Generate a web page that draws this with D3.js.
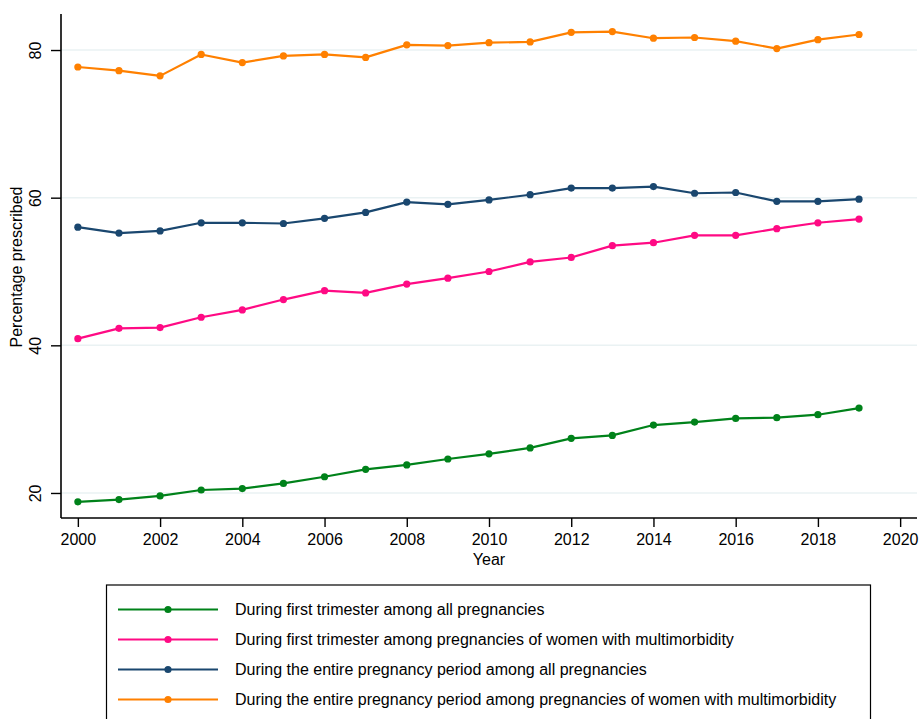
<!DOCTYPE html>
<html>
<head>
<meta charset="utf-8">
<script src="https://cdn.jsdelivr.net/npm/d3@7"></script>
<style>
  html, body { margin: 0; padding: 0; background: #fff; }
  svg { display: block; font-family: "Liberation Sans", Arial, sans-serif; }
</style>
</head>
<body>
<svg id="chart" width="919" height="719"></svg>
<script>
const years = [2000,2001,2002,2003,2004,2005,2006,2007,2008,2009,2010,2011,2012,2013,2014,2015,2016,2017,2018,2019];
const firstTrimesterAll = [18.8,19.1,19.6,20.4,20.6,21.3,22.2,23.2,23.8,24.6,25.3,26.1,27.4,27.8,29.2,29.6,30.1,30.2,30.6,31.5];
const firstTrimesterMulti = [40.9,42.3,42.4,43.8,44.8,46.2,47.4,47.1,48.3,49.1,50.0,51.3,51.9,53.5,53.9,54.9,54.9,55.8,56.6,57.1];
const entireAll = [56.0,55.2,55.5,56.6,56.6,56.5,57.2,58.0,59.4,59.1,59.7,60.4,61.3,61.3,61.5,60.6,60.7,59.5,59.5,59.8];
const entireMulti = [77.7,77.2,76.5,79.4,78.3,79.2,79.4,79.0,80.7,80.6,81.0,81.1,82.4,82.5,81.6,81.7,81.2,80.2,81.4,82.1];
const seriesNames = [
  "During first trimester among all pregnancies",
  "During first trimester among pregnancies of women with multimorbidity",
  "During the entire pregnancy period among all pregnancies",
  "During the entire pregnancy period among pregnancies of women with multimorbidity"
];
const seriesColors = ["#00821a", "#ff0a84", "#1a476f", "#ff8000"];
const xTicks = [2000,2002,2004,2006,2008,2010,2012,2014,2016,2018,2020];
const yTicks = [20,40,60,80];

const seriesValues = [firstTrimesterAll, firstTrimesterMulti, entireAll, entireMulti];

(function () {
const svg = d3.select("#chart");
const pLeft = 61, pRight = 917, pTop = 14, pBottom = 518;
const fs = 16;

const x = d3.scaleLinear().domain([1999.59, 2020.41]).range([pLeft, pRight]);
const y = d3.scaleLinear().domain([16.61, 84.88]).range([pBottom, pTop]);

// gridlines
svg.append("g").selectAll("line").data(yTicks).join("line")
  .attr("x1", pLeft).attr("x2", pRight)
  .attr("y1", d => y(d)).attr("y2", d => y(d))
  .attr("stroke", "#eaf2f3").attr("stroke-width", 1.6);

// y axis
const yAxis = svg.append("g").attr("transform", `translate(${pLeft},0)`)
  .call(d3.axisLeft(y).tickValues(yTicks).tickSize(10).tickPadding(4).tickFormat(d3.format("d")));
yAxis.select(".domain").attr("stroke", "#000").attr("stroke-width", 1.6).attr("d", `M0,${pTop}V${pBottom}`);
yAxis.selectAll(".tick line").attr("stroke", "#000").attr("stroke-width", 1.4);
yAxis.selectAll(".tick text")
  .attr("font-size", fs).attr("fill", "#000")
  .attr("text-anchor", "middle")
  .attr("x", 0).attr("y", 0).attr("dy", "0.35em")
  .attr("transform", "translate(-26,0) rotate(-90)");

// x axis
const xAxis = svg.append("g").attr("transform", `translate(0,${pBottom})`)
  .call(d3.axisBottom(x).tickValues(xTicks).tickSize(9).tickPadding(7).tickFormat(d3.format("d")));
xAxis.select(".domain").attr("stroke", "#000").attr("stroke-width", 1.6).attr("d", `M${pLeft},0H${pRight}`);
xAxis.selectAll(".tick line").attr("stroke", "#000").attr("stroke-width", 1.4);
xAxis.selectAll(".tick text").attr("font-size", fs).attr("fill", "#000");

// axis titles
svg.append("text").attr("x", x(2010)).attr("y", 565)
  .attr("text-anchor", "middle").attr("font-size", fs).text("Year");
svg.append("text")
  .attr("transform", `translate(22,${(pTop + pBottom) / 2 + 1}) rotate(-90)`)
  .attr("text-anchor", "middle").attr("font-size", fs).text("Percentage prescribed");

// series
const line = d3.line().x((d, i) => x(years[i])).y(d => y(d));
seriesValues.forEach((vals, si) => {
  const g = svg.append("g");
  g.append("path").datum(vals).attr("d", line)
    .attr("fill", "none").attr("stroke", seriesColors[si]).attr("stroke-width", 2.2)
    .attr("stroke-linejoin", "round");
  g.selectAll("circle").data(vals).join("circle")
    .attr("cx", (d, i) => x(years[i])).attr("cy", d => y(d)).attr("r", 3.6)
    .attr("fill", seriesColors[si]);
});

// legend
const lg = svg.append("g");
lg.append("rect").attr("x", 106.5).attr("y", 585).attr("width", 764).attr("height", 150)
  .attr("fill", "#fff").attr("stroke", "#000").attr("stroke-width", 1.2);
seriesNames.forEach((name, i) => {
  const yy = 609.5 + i * 30;
  lg.append("line").attr("x1", 118).attr("x2", 218).attr("y1", yy).attr("y2", yy)
    .attr("stroke", seriesColors[i]).attr("stroke-width", 2.2);
  lg.append("circle").attr("cx", 168).attr("cy", yy).attr("r", 3.6).attr("fill", seriesColors[i]);
  lg.append("text").attr("x", 235).attr("y", yy).attr("dy", "0.35em")
    .attr("font-size", fs).attr("fill", "#000").text(name);
});
})();
</script>
</body>
</html>
